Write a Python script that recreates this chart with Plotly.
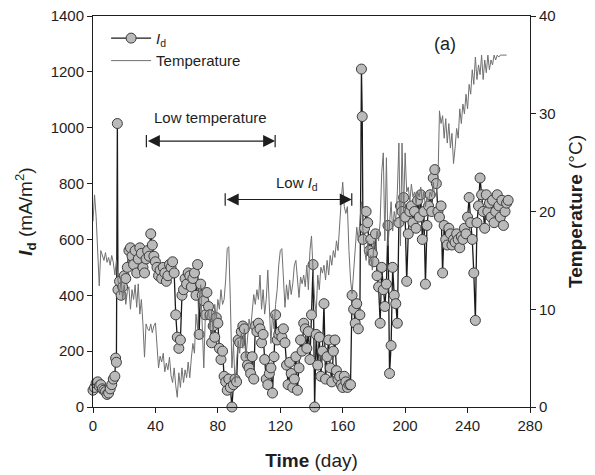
import plotly.graph_objects as go

# ---- Current density I_d (mA/m^2) by day ----
id_days = [0, 1, 2, 3, 4, 5, 6, 7, 8, 9, 10, 11, 12, 13, 14, 14.5, 15, 15.6, 16, 17,
           18, 19, 20, 21, 22, 23, 24, 25, 26, 27, 28, 29, 30, 31, 32, 33, 34, 35, 36, 37,
           38, 39, 40, 41, 42, 43, 44, 45, 46, 47, 48, 49, 50, 51, 52, 53, 54, 55, 56, 57,
           58, 59, 60, 61, 62, 63, 64, 65, 66, 67, 68, 69, 70, 71, 72, 73, 74, 75, 76, 77,
           78, 79, 80, 81, 82, 83, 84, 85, 86, 87, 88, 89, 90, 91, 92, 93, 94, 95, 96, 97,
           98, 99, 100, 101, 102, 103, 104, 105, 106, 107, 108, 109, 110, 111, 112, 113, 114, 115, 116, 117,
           118, 119, 120, 121, 122, 123, 124, 125, 126, 127, 128, 129, 130, 131, 132, 133, 134, 135, 136, 137,
           138, 139, 140, 141, 142, 143, 144, 145, 146, 147, 148, 149, 150, 151, 152, 153, 154, 155, 156, 157,
           158, 159, 160, 161, 162, 163, 164, 165, 166, 167, 168, 169, 170, 171, 172, 172.5, 173, 174, 175, 176,
           177, 178, 179, 180, 181, 182, 183, 184, 185, 186, 187, 188, 189, 190, 191, 192, 193, 194, 195, 196,
           197, 198, 199, 200, 201, 202, 203, 204, 205, 206, 207, 208, 209, 210, 211, 212, 213, 214, 215, 216,
           217, 218, 219, 220, 221, 222, 223, 224, 225, 226, 227, 228, 229, 230, 231, 232, 233, 234, 235, 236,
           237, 238, 239, 240, 241, 242, 243, 244, 245, 246, 247, 248, 249, 250, 251, 252, 253, 254, 255, 256,
           257, 258, 259, 260, 261, 262, 263, 264, 265, 266]
id_values = [60, 70, 85, 90, 75, 80, 65, 60, 55, 45, 50, 65, 80, 100, 110, 175, 160, 1015, 420, 450,
             400, 430, 470, 460, 500, 560, 570, 540, 510, 560, 480, 530, 570, 550, 500, 480, 530, 560, 540, 620,
             580, 540, 520, 500, 470, 490, 460, 500, 480, 450, 470, 510, 500, 520, 480, 330, 250, 210, 240, 400,
             420, 460, 440, 480, 470, 430, 460, 480, 400, 510, 260, 440, 400, 380, 330, 410, 360, 330, 230, 290,
             250, 320, 300, 210, 170, 200, 110, 90, 60, 100, 70, 0, 80, 100, 90, 240, 230, 270, 290, 280,
             180, 150, 140, 120, 180, 100, 290, 270, 300, 280, 230, 260, 170, 100, 80, 120, 140, 50, 180, 330,
             240, 260, 270, 250, 280, 230, 150, 80, 160, 120, 70, 100, 180, 60, 140, 240, 200, 300, 280, 210,
             270, 170, 330, 510, 0, 260, 150, 250, 110, 200, 370, 100, 180, 240, 140, 90, 200, 240, 130, 100,
             110, 80, 70, 110, 90, 70, 80, 80, 400, 350, 300, 370, 280, 330, 1210, 1040, 600, 640, 700, 660,
             560, 600, 550, 520, 620, 470, 430, 300, 500, 420, 360, 440, 650, 120, 220, 500, 400, 370, 300, 660,
             720, 700, 750, 680, 450, 620, 700, 720, 660, 700, 640, 740, 680, 760, 600, 700, 440, 650, 720, 760,
             700, 820, 850, 800, 700, 680, 720, 480, 650, 600, 580, 640, 620, 580, 600, 590, 620, 600, 570, 610,
             600, 640, 620, 680, 750, 660, 600, 480, 310, 660, 720, 820, 760, 700, 640, 760, 700, 730, 680, 740,
             660, 700, 760, 720, 680, 740, 650, 700, 730, 740]

# ---- Temperature (deg C) by day ----
temp_days = list(range(0, 266))
temp_values = [19, 21.7, 19.5, 16, 12.4, 16, 15.5, 15, 15.8, 14.8, 15.3, 14.5, 15.5, 14.8, 13.5, 15, 13, 11.5, 13.2, 11,
               12.5, 10.5, 11.8, 12.3, 10, 12, 11, 12.5, 10.2, 12.6, 9.5, 11, 8.5, 5.1, 8.5, 8, 7.8, 8.5, 7.6, 8.3,
               8.6, 6.5, 4, 5.2, 4.6, 5.5, 3.6, 4.5, 3.8, 5.1, 3.2, 2.5, 4, 2.2, 1, 3.5, 2, 4, 2.5, 3.8,
               3, 4.6, 3, 5, 6.5, 5.5, 9.5, 8, 11, 12.5, 8, 4, 9.5, 9, 10, 8, 9.8, 7.5, 10.5, 9,
               11, 10, 12, 10.5, 11, 13, 16.2, 16.4, 11, 4, 6.5, 2.5, 4.5, 6.8, 5.5, 7.5, 6, 8, 5, 7,
               9, 8, 10, 11.5, 10.5, 12, 11, 13.5, 10, 12, 9.5, 11, 14, 10.5, 6.5, 9.5, 8, 10.5, 12, 14.5,
               16, 16.2, 13, 10.2, 12.5, 11, 13, 11.5, 12.6, 14.5, 15, 12.5, 11.2, 13.3, 12.6, 13.5, 12.3, 14.5, 12, 16,
               17.5, 14, 11, 9.5, 13.5, 12, 14.3, 13.7, 14.5, 13, 15, 13.5, 15.5, 14.5, 16, 15.3, 17, 16, 19, 21,
               23, 20.5, 19.8, 20.5, 16, 13, 11.6, 14, 16.5, 18.4, 17, 19, 21, 18, 16, 15, 17, 14.5, 15.5, 14,
               17, 16, 18, 17, 19, 24, 26, 17, 25.5, 16.5, 19, 21, 18, 20, 19, 22, 27, 16.5, 27, 20,
               26, 22, 22.5, 21, 22.8, 21.5, 22, 20.8, 22, 21.5, 22.5, 21, 22, 20.5, 21.5, 21, 22, 21.5, 23, 21.5,
               22, 23, 30.3, 29, 29.8, 27.5, 29.5, 27, 29, 26.5, 28, 24.9, 26.5, 28.5, 27.5, 30.5, 29, 31, 30, 32,
               30.5, 33, 32, 34.5, 33, 35.8, 33.5, 35, 34, 36, 33.5, 35.5, 34.2, 36, 34.5, 35.5, 35, 36, 35.5, 36,
               35.8, 36, 36, 36, 36, 36]

x_ticks = [0, 40, 80, 120, 160, 200, 240, 280]
y_ticks = [0, 200, 400, 600, 800, 1000, 1200, 1400]
y2_ticks = [0, 10, 20, 30, 40]

FONT = "Liberation Sans, Arial, sans-serif"
INK = "#1e1e1e"

fig = go.Figure()

fig.add_trace(go.Scatter(
    x=temp_days, y=temp_values, yaxis="y2", mode="lines",
    line=dict(color="#707070", width=1),
    name="Temperature", legendrank=2,
))

fig.add_trace(go.Scatter(
    x=id_days, y=id_values, mode="lines+markers",
    line=dict(color="#1a1a1a", width=1.3),
    marker=dict(size=10, color="#bababa", line=dict(color="#3c3c3c", width=1)),
    name="<i>I</i><sub>d</sub>", legendrank=1, cliponaxis=False,
))

axis_common = dict(
    showline=True, linecolor=INK, linewidth=1, ticks="outside", ticklen=5,
    tickcolor=INK, showgrid=False, zeroline=False, automargin=False,
    tickfont=dict(family=FONT, size=15, color=INK),
)

fig.update_layout(
    width=595, height=475,
    margin=dict(l=93, r=65, t=16, b=68),
    paper_bgcolor="white", plot_bgcolor="white",
    font=dict(family=FONT, color=INK),
    xaxis=dict(range=[0, 280], tickvals=x_ticks, mirror=True,
               title=dict(text="<b>Time</b> (day)", font=dict(size=19), standoff=20),
               **axis_common),
    yaxis=dict(range=[0, 1400], tickvals=y_ticks, mirror=True,
               title=dict(text="<b><i>I</i><sub>d</sub></b> (mA/m<sup>2</sup>)",
                          font=dict(size=19), standoff=12),
               **axis_common),
    yaxis2=dict(range=[0, 40], tickvals=y2_ticks, overlaying="y", side="right",
                title=dict(text="<b>Temperature</b> (°C)", font=dict(size=19), standoff=14),
                **axis_common),
    legend=dict(x=0.03, y=0.985, xanchor="left", yanchor="top",
                bgcolor="rgba(0,0,0,0)", font=dict(size=15, family=FONT),
                tracegroupgap=0, itemwidth=40),
    showlegend=True,
)

# Period annotations: double-headed arrows with end bars
low_temp_span = (34.2, 116.7, 952)
low_id_span = (84.7, 165.8, 743)

for x0, x1, yv in (low_temp_span, low_id_span):
    fig.add_annotation(x=x1, y=yv, ax=x0, ay=yv, xref="x", yref="y", axref="x", ayref="y",
                       text="", showarrow=True, arrowhead=2, arrowsize=2, arrowwidth=1.2,
                       arrowside="end+start", arrowcolor=INK, startarrowhead=2, startarrowsize=2)
    for xb in (x0, x1):
        fig.add_shape(type="line", x0=xb, x1=xb, y0=yv - 22, y1=yv + 22,
                      xref="x", yref="y", line=dict(color=INK, width=1.2))

fig.add_annotation(x=75, y=1037, xref="x", yref="y", text="Low temperature", showarrow=False,
                   font=dict(size=15, family=FONT, color=INK))
fig.add_annotation(x=131, y=800, xref="x", yref="y", text="Low <i>I</i><sub>d</sub>", showarrow=False,
                   font=dict(size=15, family=FONT, color=INK))
fig.add_annotation(x=225.6, y=1300, xref="x", yref="y", text="(a)", showarrow=False,
                   font=dict(size=18, family=FONT, color=INK))

fig.write_html("out.html")
